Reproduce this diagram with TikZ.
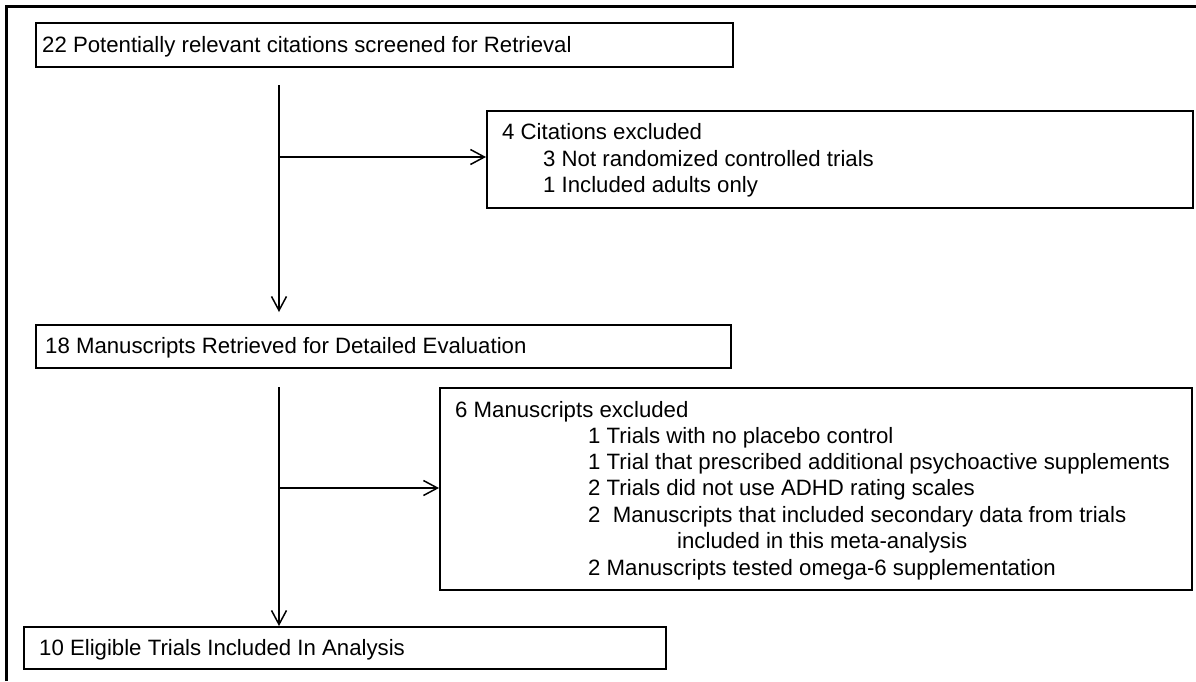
\documentclass[tikz,border=0pt]{standalone}
\usepackage{fontspec}
\setmainfont{Liberation Sans}
\usetikzlibrary{arrows.meta}
\begin{document}
\begin{tikzpicture}[x=1pt,y=-1pt,
  box/.style={draw, line width=1.5pt, rectangle, inner sep=0pt, anchor=north west},
  txt/.style={anchor=base west, inner sep=0pt, font=\fontsize{22.2}{26}\selectfont},
  flow/.style={line width=1.5pt, -{Straight Barb[length=14pt,width=15pt,line width=1.5pt]}}]
\useasboundingbox (0,0) rectangle (1196,681);
\draw[line width=3pt] (6,681) -- (6,6) -- (1196,6);
% boxes
\node[box, minimum width=697pt, minimum height=44pt] (b1) at (35,22) {};
\node[box, minimum width=706pt, minimum height=97pt] (b2) at (486,110) {};
\node[box, minimum width=695pt, minimum height=43pt] (b3) at (35,324) {};
\node[box, minimum width=752pt, minimum height=202pt] (b4) at (439,387) {};
\node[box, minimum width=642pt, minimum height=42pt] (b5) at (23,626) {};
% texts
\node[txt] (t1) at (42,52) {22 Potentially relevant citations screened for Retrieval};
\node[txt] (t2a) at (502,139.5) {4 Citations excluded};
\node[txt] (t2b) at (543,166) {3 Not randomized controlled trials};
\node[txt] (t2c) at (543,192) {1 Included adults only};
\node[txt] (t3) at (45,353) {18 Manuscripts Retrieved for Detailed Evaluation};
\node[txt] (t4a) at (455,417) {6 Manuscripts excluded};
\node[txt] (t4b) at (588,443) {1 Trials with no placebo control};
\node[txt] (t4c) at (588,469) {1 Trial that prescribed additional psychoactive supplements};
\node[txt] (t4d) at (588,495) {2 Trials did not use ADHD rating scales};
\node[txt] (t4e) at (588,522) {2\ \ Manuscripts that included secondary data from trials};
\node[txt] (t4f) at (677,548) {included in this meta-analysis};
\node[txt] (t4g) at (588,575) {2 Manuscripts tested omega-6 supplementation};
\node[txt] (t5) at (39,655) {10 Eligible Trials Included In Analysis};
% connectors
\coordinate (s1) at (279,85);
\coordinate (e1) at (279,312);
\coordinate (j1) at (279,157);
\draw[flow] (s1) -- (e1);
\draw[flow] (j1) -- (b2.west |- j1);
\coordinate (s2) at (279,387);
\coordinate (j2) at (279,488);
\draw[flow] (s2) -- (b5.north -| s2);
\draw[flow] (j2) -- (b4.west |- j2);
\end{tikzpicture}
\end{document}
